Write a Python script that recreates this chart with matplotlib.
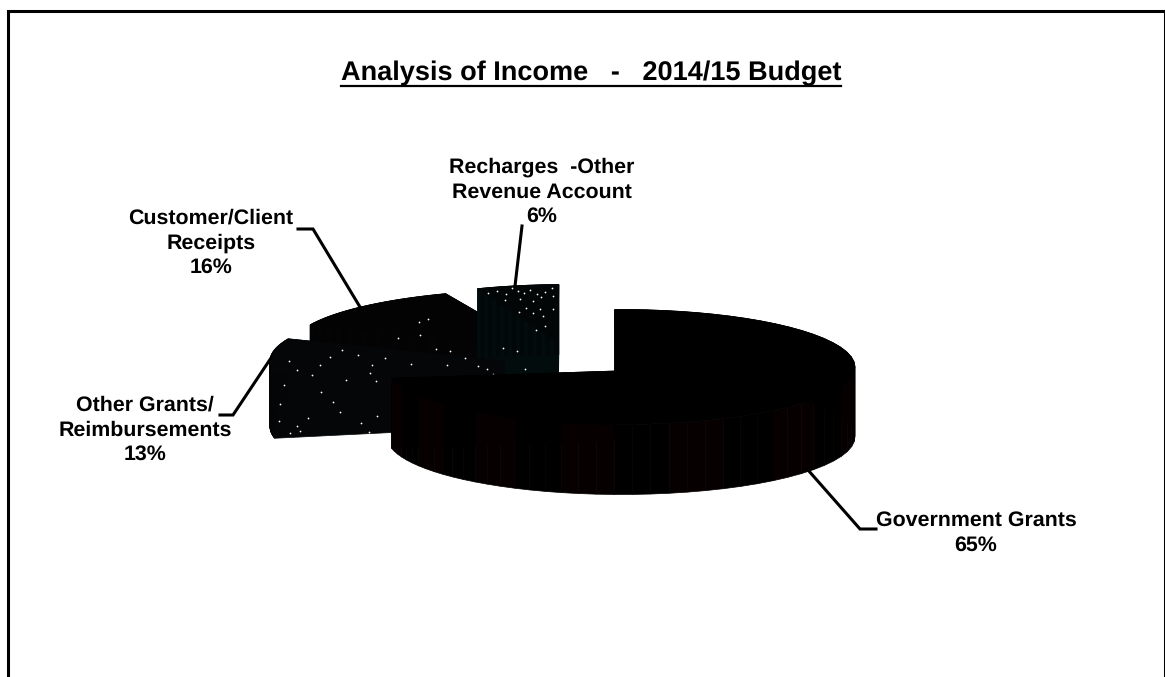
import numpy as np
import matplotlib
matplotlib.use('Agg')
import matplotlib.pyplot as plt
from matplotlib.patches import Polygon

### Income shares, in the order the pie is drawn clockwise from 12 o'clock
income_cats = ['Government Grants', 'Other Grants/\nReimbursements',
               'Customer/Client\nReceipts', 'Recharges  -Other\nRevenue Account']
income_pct = [65, 13, 16, 6]
title_text = 'Analysis of Income   -   2014/15 Budget'

plt.rcParams['font.family'] = ['Liberation Sans', 'DejaVu Sans']
plt.rcParams['text.hinting'] = 'none'

### Pie geometry in pixels, one entry per slice
cen_x = [621, 504, 538, 565]
cen_y = [367, 361, 347, 342]
hub_x = [615, 504, 538, 558]
hub_y = [371, 361, 347, 342]
rad_x = [234, 234, 247, 234]
depth = [70, 66, 60, 70]
rad_y = 57.5
start_deg = -1.5
stretch_deg = 33.  # near side of the tilted pie opens up a little
draw_order = [2, 3, 1, 0]  # back slices first

top_cols = ['#000000', '#050608', '#030303', '#020606']
wall_cols = [('#000000', '#070000'), ('#050608', '#040506'),
             ('#040404', '#030303'), ('#020c0c', '#020808')]

### Label text centres and leader lines
label_xy = [(976, 533), (145, 430), (211, 243), (542, 192)]
leaders = [[(808, 470), (860, 529), (876, 529)],
           [(220, 415), (233, 415), (271, 358)],
           [(298, 229), (313, 229), (360, 307)],
           [(515, 286), (522, 226)]]

### White flecks in the lighter slices
flecks_x = [488, 497, 506, 512, 518, 524, 530, 537, 545, 552, 505, 520, 533, 541, 553,
            519, 526, 533, 540, 543, 553, 536, 545, 289, 297, 312, 320, 330, 342, 358,
            372, 385, 398, 411, 420, 436, 419, 428, 447, 450, 465, 478, 487, 493, 503,
            517, 525, 284, 280, 279, 308, 321, 333, 346, 370, 376, 300, 290, 297, 340,
            377, 361, 369]
flecks_y = [293, 291, 294, 288, 291, 293, 290, 294, 292, 288, 300, 299, 301, 297, 296,
            312, 308, 313, 309, 316, 309, 330, 326, 361, 370, 375, 365, 357, 350, 355,
            365, 358, 338, 364, 335, 349, 322, 319, 365, 351, 358, 366, 369, 374, 348,
            351, 369, 385, 404, 421, 418, 392, 402, 380, 373, 381, 431, 433, 426, 412,
            416, 423, 432]


def rim(deg, i):
    ### Rim point of slice i at clockwise angle deg
    phi = np.radians(deg+stretch_deg*(1.-np.cos(np.radians(deg)))/2.+start_deg)
    return cen_x[i]+rad_x[i]*np.sin(phi), cen_y[i]-rad_y*np.cos(phi)


def draw_slice(ax, i, a0, a1, zo):
    x, y = rim(np.linspace(a0, a1, 61), i)
    d = depth[i]
    cols = wall_cols[i]
    hx, hy = hub_x[i], hub_y[i]

    ### Radial cut walls
    for xe, ye in ((x[0], y[0]), (x[-1], y[-1])):
        ax.add_patch(Polygon([(hx, hy), (xe, ye), (xe, ye+d), (hx, hy+d)],
                             fc=cols[0], ec=cols[0], lw=0.5, zorder=zo))
    ### Outer wall, in narrow alternating bands
    for k in range(len(x)-1):
        c = cols[(k//3) % 2]
        ax.add_patch(Polygon([(x[k], y[k]), (x[k+1], y[k+1]), (x[k+1], y[k+1]+d), (x[k], y[k]+d)],
                             fc=c, ec=c, lw=0.5, zorder=zo))
    ### Top face
    xy = np.column_stack([np.r_[hx, x], np.r_[hy, y]])
    ax.add_patch(Polygon(xy, fc=top_cols[i], ec=top_cols[i], lw=0.5, zorder=zo))


def main():
    fig = plt.figure()
    fig.set_size_inches(11.65, 6.77)
    ax = fig.add_axes([0, 0, 1, 1])
    ax.set_xlim(0, 1165)
    ax.set_ylim(677, 0)
    ax.axis('off')

    ### Page frame, runs off the bottom edge
    ax.plot([7.5, 7.5, 1165, 1165], [677, 10.5, 10.5, 677], c='k', lw=2.2,
            solid_joinstyle='miter', zorder=1)

    ### Slice angles come straight from the percentages
    edges = np.r_[0, np.cumsum(income_pct)]/float(sum(income_pct))*360.
    for n, i in enumerate(draw_order):
        # main slice goes over the flecks, the rest under them
        draw_slice(ax, i, edges[i], edges[i+1], 3 if i == 0 else 2+n*0.1)
    ax.scatter(flecks_x, flecks_y, s=1.6, c='w', lw=0, zorder=2.5)

    ### Leader lines and category labels
    for pts in leaders:
        xx, yy = zip(*pts)
        ax.plot(xx, yy, c='k', lw=2.2, solid_joinstyle='miter', zorder=4)
    for cat, pct, (x, y) in zip(income_cats, income_pct, label_xy):
        ax.text(x, y, '{}\n{}%'.format(cat, pct), ha='center', va='center', fontsize=15.4,
                fontweight='bold', linespacing=1.32, zorder=5)

    ### Title with a rule under it
    tt = ax.text(591, 73, title_text, ha='center', va='center', fontsize=19.5, fontweight='bold')
    fig.canvas.draw()
    bb = tt.get_window_extent()
    ax.plot([bb.x0, bb.x1], [85.5, 85.5], c='k', lw=1.6)

    fig.savefig('out.png', dpi=100)
    return


if __name__ == "__main__":
    main()
